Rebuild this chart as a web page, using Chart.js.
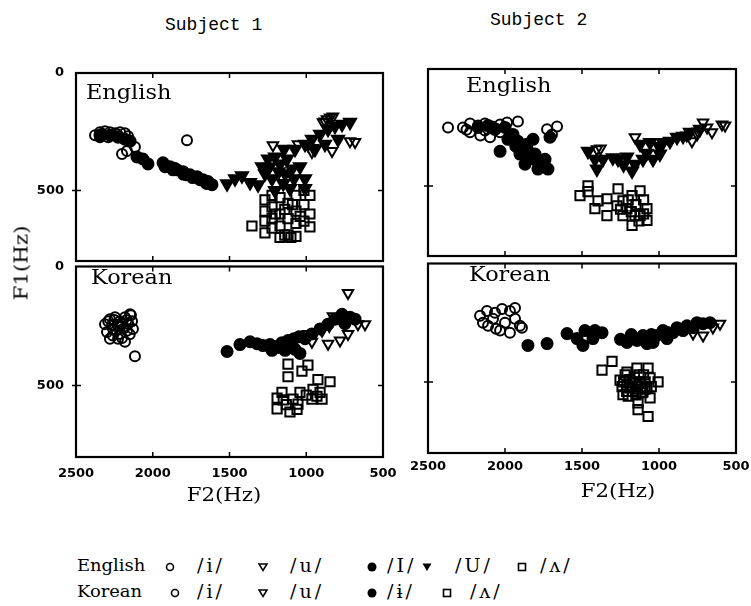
<!DOCTYPE html>
<html><head><meta charset="utf-8">
<script src="https://cdn.jsdelivr.net/npm/chart.js@4"></script>
<style>
html,body{margin:0;padding:0;background:#fff;width:751px;height:606px;overflow:hidden;position:relative}
canvas{position:absolute}
.t{position:absolute;white-space:nowrap;color:#000;line-height:1}
.serif{font-family:"DejaVu Serif",serif}
.c{transform:translate(-50%,-50%) scaleX(1.12)}
.lab{transform-origin:0 0;transform:scaleX(1.12)}
</style></head><body>
<canvas id="c1" width="400" height="210" style="left:0;top:60px"></canvas>
<canvas id="c3" width="400" height="232" style="left:0;top:258px"></canvas>
<canvas id="c2" width="351" height="210" style="left:400px;top:55px"></canvas>
<canvas id="c4" width="351" height="235" style="left:400px;top:255px"></canvas>

<div class="t" style="left:165px;top:16px;font-family:'Liberation Mono',monospace;font-size:18px">Subject 1</div>
<div class="t" style="left:490px;top:11px;font-family:'Liberation Mono',monospace;font-size:18px">Subject 2</div>

<div class="t serif lab" style="left:86px;top:82px;font-size:20px">English</div>
<div class="t serif lab" style="left:466px;top:75px;font-size:20px">English</div>
<div class="t serif lab" style="left:91px;top:267px;font-size:20px">Korean</div>
<div class="t serif lab" style="left:469px;top:264px;font-size:20px">Korean</div>

<div class="t serif" style="left:21px;top:263px;font-size:19px;transform:translate(-50%,-50%) rotate(-90deg) scaleX(1.12)">F1(Hz)</div>
<div class="t serif c" style="left:224px;top:494px;font-size:19px">F2(Hz)</div>
<div class="t serif c" style="left:618px;top:490px;font-size:19px">F2(Hz)</div>

<div id="legend"></div>

<script>
// ---------- axis ticks ----------
const xTickValues = [2500, 2000, 1500, 1000, 500];
const xTickLabels = ['2500', '2000', '1500', '1000', '500'];
const yTickValues = [0, 500];
const yTickLabels = ['0', '500'];

// ---------- data: [F2 (Hz), F1 (Hz)] ----------
// Subject 1, English
const s1En_i = [[2376,265],[2344,252],[2311,248],[2279,252],[2246,256],[2213,252],[2181,256],[2161,269],[2344,273],[2290,273],[2200,345],[2116,315],[2168,332],[1777,286],[2230,262],[2330,260]];
const s1En_u = [[1217,307],[1054,303],[989,307],[956,319],[832,332],[878,206],[845,189],[682,294],[715,290],[963,336],[865,197],[826,185],[891,210]];
const s1En_I = [[2344,265],[2279,265],[2226,273],[2181,282],[2148,290],[2103,357],[2064,366],[2031,387],[1933,382],[1920,399],[1888,399],[1868,412],[1842,412],[1803,420],[1783,433],[1757,433],[1712,441],[1692,454],[1673,454],[1640,462],[1614,475],[1860,405],[1740,445],[1650,470],[1800,430]];
const s1En_U = [[1516,471],[1464,450],[1419,437],[1366,466],[1314,475],[1288,399],[1249,366],[1204,357],[1171,387],[1125,366],[1093,408],[1041,399],[1138,429],[1223,450],[1269,429],[1106,492],[1204,500],[1008,450],[1008,492],[1073,324],[1008,303],[963,282],[910,261],[858,239],[813,227],[767,218],[715,210],[943,324],[878,303],[793,282],[1145,324],[1180,420],[1080,450],[1240,400],[1150,470]];
const s1En_wedge = [[1269,540],[1269,588],[1269,630],[1269,680],[1223,521],[1223,570],[1223,618],[1223,660],[1171,530],[1171,600],[1171,651],[1171,700],[1119,555],[1119,620],[1119,689],[1067,521],[1067,588],[1067,640],[1067,695],[1015,500],[1015,560],[1015,630],[976,521],[976,600],[976,655],[1354,651],[1140,690],[1100,700],[1200,600],[1140,580],[1090,560],[1040,610]];
// Subject 1, Korean
const s1Ko_i = [[2311,242],[2279,221],[2246,213],[2213,230],[2181,213],[2148,201],[2135,230],[2298,275],[2259,262],[2213,283],[2168,270],[2129,262],[2226,303],[2181,316],[2279,303],[2116,377],[2142,205],[2213,254],[2265,246],[2290,230],[2250,225],[2200,240],[2160,240],[2240,270],[2190,260],[2150,285],[2260,290],[2200,300],[2230,245],[2170,225]];
const s1Ko_u = [[728,111],[826,209],[800,213],[897,270],[989,283],[963,316],[858,324],[780,311],[663,242],[617,242],[728,283],[780,221],[850,250]];
const s1Ko_barI = [[1516,357],[1432,328],[1366,316],[1321,324],[1282,332],[1236,328],[1204,336],[1158,320],[1119,311],[1080,303],[1047,295],[1223,352],[1138,352],[1073,348],[1041,365],[1008,303],[963,283],[910,262],[858,242],[813,221],[767,201],[715,213],[682,221],[748,240],[1100,330],[1180,340]];
const s1Ko_wedge = [[1119,410],[989,414],[1119,463],[1028,439],[924,475],[845,484],[1190,553],[1190,598],[1106,611],[1054,578],[963,557],[910,529],[897,557],[1041,529],[1158,529],[1086,557],[956,516],[1130,580],[1000,540],[1060,600],[1150,560],[930,545]];
// Subject 2, English
const s2En_i = [[2370,250],[2273,250],[2227,233],[2175,242],[2130,233],[2084,246],[2032,237],[1987,229],[1916,225],[2227,271],[2160,284],[2097,292],[2032,271],[2130,263],[1727,258],[1662,246],[1695,280],[2250,260],[2060,255]];
const s2En_u = [[1156,292],[1403,343],[883,292],[753,280],[688,250],[591,237],[571,242],[714,229],[656,271],[786,309],[747,267],[1380,340],[820,285]];
const s2En_I = [[2032,352],[1981,301],[1948,280],[1916,309],[1890,343],[1857,322],[1838,377],[1805,364],[1773,407],[1740,386],[1721,428],[1870,407],[1903,364],[1786,428],[1818,301],[2175,250],[2110,242],[2065,258],[2000,250],[1708,292],[1850,350],[1800,390],[1930,330]];
const s2En_U = [[1461,352],[1403,428],[1364,386],[1266,386],[1208,377],[1156,407],[1104,386],[1039,386],[994,364],[1123,322],[1058,314],[974,314],[929,309],[883,292],[844,288],[799,271],[734,258],[1175,436],[1416,386],[1300,380],[1230,410],[1080,360],[1000,330]];
const s2En_wedge = [[1461,500],[1513,542],[1461,525],[1396,564],[1416,597],[1338,627],[1338,555],[1266,513],[1234,564],[1175,542],[1123,521],[1078,597],[1078,648],[1156,627],[1208,597],[1175,669],[1123,627],[1234,627],[1273,585],[1200,560],[1150,580],[1100,560],[1250,600],[1130,650],[1180,610],[1100,620]];
// Subject 2, Korean
const s2Ko_i = [[2162,221],[2117,200],[2065,208],[2019,192],[1968,200],[1935,233],[1903,263],[2110,263],[2058,275],[2000,250],[1968,292],[1890,271],[2143,250],[2078,233],[2032,283],[1935,188]];
const s2Ko_u = [[604,254],[714,304],[779,296],[650,270]];
const s2Ko_barI = [[1851,346],[1727,338],[1597,296],[1532,317],[1494,346],[1481,283],[1416,283],[1370,292],[1429,317],[1208,333],[1143,325],[1078,338],[1013,304],[948,317],[909,292],[844,283],[779,271],[714,254],[669,250],[974,283],[883,271],[818,263],[753,250],[1104,304],[1039,333],[1250,320],[1180,300],[1050,300],[950,290]];
const s2Ko_wedge = [[1305,413],[1370,450],[1208,458],[1253,492],[1188,525],[1123,500],[1071,442],[1058,483],[1006,500],[1104,542],[1234,554],[1136,588],[1136,617],[1071,646],[1058,567],[1143,442],[1208,513],[1078,525],[1160,480],[1200,560],[1100,470],[1230,500],[1050,520],[1170,540],[1220,470],[1190,490],[1150,505],[1120,520],[1090,500],[1180,520],[1140,530],[1110,545],[1210,540],[1170,500],[1130,470],[1090,530],[1240,520],[1150,555]];

// ---------- marker styles ----------
const STYLES = {
  openCircle:  {pointStyle:'circle',   radius:5,   fill:false, rot:0},
  openTri:     {pointStyle:'triangle', radius:6,   fill:false, rot:180},
  fillCircle:  {pointStyle:'circle',   radius:5.5, fill:true,  rot:0},
  fillTri:     {pointStyle:'triangle', radius:7,   fill:true,  rot:180},
  openSquare:  {pointStyle:'rect',     radius:6.5, fill:false, rot:0}
};

function ds(label, arr, st) {
  const s = STYLES[st];
  return {
    label, data: arr.map(p => ({x:p[0], y:p[1]})),
    pointStyle: s.pointStyle, pointRadius: s.radius, pointRotation: s.rot,
    pointBorderWidth: 2, pointBorderColor: '#000',
    pointBackgroundColor: s.fill ? '#000' : 'rgba(255,255,255,0)',
    showLine: false
  };
}

const framePlugin = {
  id: 'frame',
  afterDatasetsDraw(chart) {
    const {ctx, chartArea: a, scales: {x, y}} = chart;
    ctx.save();
    ctx.strokeStyle = '#000';
    ctx.lineWidth = 2.2;
    ctx.strokeRect(a.left, a.top, a.right - a.left, a.bottom - a.top);
    ctx.lineWidth = 1.5;
    ctx.beginPath();
    xTickValues.forEach(v => {
      const px = x.getPixelForValue(v);
      if (px > a.left + 3 && px < a.right - 3) {
        ctx.moveTo(px, a.top); ctx.lineTo(px, a.top + 5);
        ctx.moveTo(px, a.bottom); ctx.lineTo(px, a.bottom - 5);
      }
    });
    yTickValues.forEach(v => {
      const py = y.getPixelForValue(v);
      if (py > a.top + 3 && py < a.bottom - 3) {
        ctx.moveTo(a.left - 4, py); ctx.lineTo(a.left + 5, py);
        ctx.moveTo(a.right, py); ctx.lineTo(a.right - 5, py);
      }
    });
    ctx.stroke();
    ctx.restore();
  }
};

const tickFont = {family: 'DejaVu Sans', weight: 'bold', size: 13};

function makeChart(id, datasets, o) {
  return new Chart(document.getElementById(id), {
    type: 'scatter',
    data: {datasets},
    options: {
      responsive: false, animation: false, devicePixelRatio: 1,
      layout: {padding: o.padding},
      plugins: {legend: {display: false}, tooltip: {enabled: false}},
      scales: {
        x: {
          type: 'linear', reverse: true, min: 500, max: 2500,
          display: o.showX,
          afterBuildTicks: s => { s.ticks = xTickValues.map(v => ({value: v})); },
          afterFit: s => { s.height = o.xH || 0; s.paddingLeft = 0; s.paddingRight = 0; s.paddingTop = 0; s.paddingBottom = 0; },
          grid: {display: false, drawTicks: false}, border: {display: false},
          ticks: {display: o.showX, padding: o.xPad || 8, font: tickFont, color: '#000',
                  maxRotation: 0, autoSkip: false, callback: (v, i) => xTickLabels[i]}
        },
        y: {
          type: 'linear', reverse: true, min: 0, max: 800,
          display: o.showY,
          afterBuildTicks: s => { s.ticks = yTickValues.map(v => ({value: v})); },
          afterFit: s => { s.width = o.yW || 0; s.paddingLeft = 0; s.paddingRight = 0; s.paddingTop = 0; s.paddingBottom = 0; },
          grid: {display: false, drawTicks: false}, border: {display: false},
          ticks: {display: o.showY, padding: 12, font: tickFont, color: '#000',
                  autoSkip: false, callback: (v, i) => yTickLabels[i]}
        }
      }
    },
    plugins: [framePlugin]
  });
}

makeChart('c1', [
  ds('/i/', s1En_i, 'openCircle'), ds('/u/', s1En_u, 'openTri'),
  ds('/I/', s1En_I, 'fillCircle'), ds('/U/', s1En_U, 'fillTri'),
  ds('/ʌ/', s1En_wedge, 'openSquare')
], {padding: {top: 13, right: 17, bottom: 8, left: 0}, showX: false, showY: true, yW: 76});

makeChart('c3', [
  ds('/i/', s1Ko_i, 'openCircle'), ds('/u/', s1Ko_u, 'openTri'),
  ds('/ɨ/', s1Ko_barI, 'fillCircle'), ds('/ʌ/', s1Ko_wedge, 'openSquare')
], {padding: {top: 8, right: 17, bottom: 0, left: 0}, showX: true, showY: true, yW: 76, xH: 33, xPad: 9});

makeChart('c2', [
  ds('/i/', s2En_i, 'openCircle'), ds('/u/', s2En_u, 'openTri'),
  ds('/I/', s2En_I, 'fillCircle'), ds('/U/', s2En_U, 'fillTri'),
  ds('/ʌ/', s2En_wedge, 'openSquare')
], {padding: {top: 14, right: 15, bottom: 7, left: 28}, showX: false, showY: false});

makeChart('c4', [
  ds('/i/', s2Ko_i, 'openCircle'), ds('/u/', s2Ko_u, 'openTri'),
  ds('/ɨ/', s2Ko_barI, 'fillCircle'), ds('/ʌ/', s2Ko_wedge, 'openSquare')
], {padding: {top: 7, right: 15, bottom: 0, left: 28}, showX: true, showY: false, xH: 37, xPad: 6});

// ---------- legend (HTML) ----------
const legendRows = [
  {name: 'English', y: 567, items: [
    {m: 'openCircle', mx: 170, t: '/i/', tx: 197}, {m: 'openTri', mx: 263, t: '/u/', tx: 290},
    {m: 'fillCircle', mx: 372, t: '/I/', tx: 387}, {m: 'fillTri', mx: 427, t: '/U/', tx: 455},
    {m: 'openSquare', mx: 522, t: '/ʌ/', tx: 540}]},
  {name: 'Korean', y: 593, items: [
    {m: 'openCircle', mx: 175, t: '/i/', tx: 197}, {m: 'openTri', mx: 263, t: '/u/', tx: 290},
    {m: 'fillCircle', mx: 372, t: '/ɨ/', tx: 387}, {m: 'openSquare', mx: 447, t: '/ʌ/', tx: 470}]}
];
const svgMarks = {
  openCircle: '<circle cx="6" cy="6" r="3.5" fill="none" stroke="#000" stroke-width="1.6"/>',
  openTri: '<polygon points="2,3 10,3 6,9.5" fill="none" stroke="#000" stroke-width="1.5"/>',
  fillCircle: '<circle cx="6" cy="6" r="4.5" fill="#000"/>',
  fillTri: '<polygon points="1.5,2.5 10.5,2.5 6,10" fill="#000"/>',
  openSquare: '<rect x="2.5" y="2.5" width="7" height="7" fill="none" stroke="#000" stroke-width="1.6"/>'
};
let html = '';
legendRows.forEach(r => {
  html += `<div class="t serif lab" style="left:77px;top:${r.y - 9}px;font-size:16px">${r.name}</div>`;
  r.items.forEach(it => {
    html += `<svg width="12" height="12" style="position:absolute;left:${it.mx - 6}px;top:${r.y - 6}px">${svgMarks[it.m]}</svg>`;
    html += `<div class="t serif" style="left:${it.tx}px;top:${r.y - 11}px;font-size:19px;letter-spacing:3px">${it.t}</div>`;
  });
});
document.getElementById('legend').innerHTML = html;
</script>
</body></html>
